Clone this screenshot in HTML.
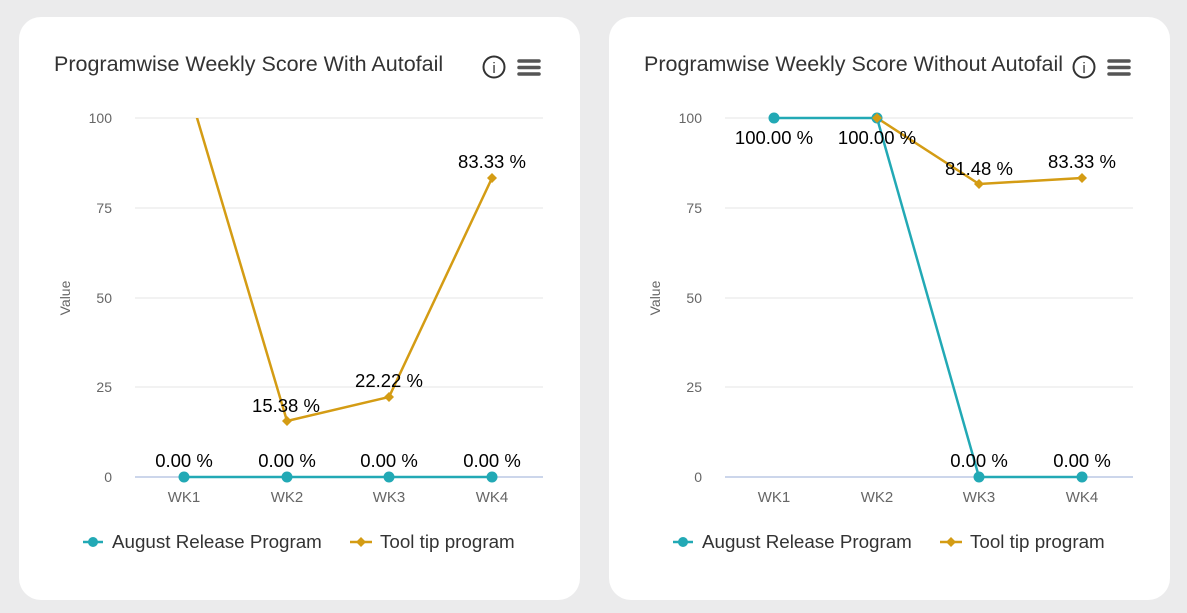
<!DOCTYPE html>
<html><head><style>body{margin:0;background:#ebebeb}svg{display:block}text{font-family:"Liberation Sans",Arial,sans-serif}</style></head><body>
<svg width="1187" height="613" viewBox="0 0 1187 613" xmlns="http://www.w3.org/2000/svg">
<rect width="1187" height="613" fill="#ebebec"/>
<defs><clipPath id="c1"><rect x="130" y="118" width="420" height="367"/></clipPath></defs>
<rect x="19" y="17" width="561" height="583" rx="22" fill="#fff"/>
<rect x="609" y="17" width="561" height="583" rx="22" fill="#fff"/>
<g>
<text x="54" y="71" font-size="21.5" fill="#333">Programwise Weekly Score With Autofail</text>
<circle cx="494" cy="67" r="10.5" fill="none" stroke="#333" stroke-width="2"/><text x="494" y="73" font-size="15" text-anchor="middle" fill="#333">i</text>
<g stroke="#555" stroke-width="3.5" stroke-linecap="round"><line x1="519" y1="61" x2="539" y2="61"/><line x1="519" y1="67.5" x2="539" y2="67.5"/><line x1="519" y1="74" x2="539" y2="74"/></g>
<g stroke="#e6e6e6"><line x1="135" y1="118" x2="543" y2="118"/><line x1="135" y1="208" x2="543" y2="208"/><line x1="135" y1="298" x2="543" y2="298"/><line x1="135" y1="387" x2="543" y2="387"/></g>
<line x1="135" y1="477" x2="543" y2="477" stroke="#ccd6eb" stroke-width="2"/>
<g font-size="14" fill="#666" text-anchor="end"><text x="112" y="123">100</text><text x="112" y="213">75</text><text x="112" y="303">50</text><text x="112" y="392">25</text><text x="112" y="482">0</text></g>
<text transform="translate(70,298) rotate(-90)" font-size="14" fill="#666" text-anchor="middle">Value</text>
<g font-size="15" fill="#666" text-anchor="middle"><text x="184" y="502">WK1</text><text x="287" y="502">WK2</text><text x="389" y="502">WK3</text><text x="492" y="502">WK4</text></g>
<line x1="83" y1="542" x2="103" y2="542" stroke="#22a9b5" stroke-width="2.5"/><circle cx="93" cy="542" r="5" fill="#22a9b5"/>
<text x="112" y="548" font-size="18.8" fill="#333">August Release Program</text>
<line x1="350" y1="542" x2="372" y2="542" stroke="#d49c14" stroke-width="2.5"/><path d="M361 537 L366 542 L361 547 L356 542Z" fill="#d49c14"/>
<text x="380" y="548" font-size="18.8" fill="#333">Tool tip program</text>
</g>
<g clip-path="url(#c1)">
<polyline points="184,74 287,421 389,397 492,178" fill="none" stroke="#d49c14" stroke-width="2.5"/>
</g>
<g fill="#d49c14"><path d="M287 416 L292 421 L287 426 L282 421Z"/><path d="M389 392 L394 397 L389 402 L384 397Z"/><path d="M492 173 L497 178 L492 183 L487 178Z"/></g>
<line x1="184" y1="477" x2="492" y2="477" stroke="#22a9b5" stroke-width="2.5"/>
<g fill="#22a9b5"><circle cx="184" cy="477" r="5.5"/><circle cx="287" cy="477" r="5.5"/><circle cx="389" cy="477" r="5.5"/><circle cx="492" cy="477" r="5.5"/></g>
<g font-size="18.5" fill="#000" text-anchor="middle"><text x="184" y="467">0.00 %</text><text x="287" y="467">0.00 %</text><text x="389" y="467">0.00 %</text><text x="492" y="467">0.00 %</text><text x="286" y="412">15.38 %</text><text x="389" y="387">22.22 %</text><text x="492" y="168">83.33 %</text></g>
<g transform="translate(590,0)">
<text x="54" y="71" font-size="21.5" fill="#333">Programwise Weekly Score Without Autofail</text>
<circle cx="494" cy="67" r="10.5" fill="none" stroke="#333" stroke-width="2"/><text x="494" y="73" font-size="15" text-anchor="middle" fill="#333">i</text>
<g stroke="#555" stroke-width="3.5" stroke-linecap="round"><line x1="519" y1="61" x2="539" y2="61"/><line x1="519" y1="67.5" x2="539" y2="67.5"/><line x1="519" y1="74" x2="539" y2="74"/></g>
<g stroke="#e6e6e6"><line x1="135" y1="118" x2="543" y2="118"/><line x1="135" y1="208" x2="543" y2="208"/><line x1="135" y1="298" x2="543" y2="298"/><line x1="135" y1="387" x2="543" y2="387"/></g>
<line x1="135" y1="477" x2="543" y2="477" stroke="#ccd6eb" stroke-width="2"/>
<g font-size="14" fill="#666" text-anchor="end"><text x="112" y="123">100</text><text x="112" y="213">75</text><text x="112" y="303">50</text><text x="112" y="392">25</text><text x="112" y="482">0</text></g>
<text transform="translate(70,298) rotate(-90)" font-size="14" fill="#666" text-anchor="middle">Value</text>
<g font-size="15" fill="#666" text-anchor="middle"><text x="184" y="502">WK1</text><text x="287" y="502">WK2</text><text x="389" y="502">WK3</text><text x="492" y="502">WK4</text></g>
<line x1="83" y1="542" x2="103" y2="542" stroke="#22a9b5" stroke-width="2.5"/><circle cx="93" cy="542" r="5" fill="#22a9b5"/>
<text x="112" y="548" font-size="18.8" fill="#333">August Release Program</text>
<line x1="350" y1="542" x2="372" y2="542" stroke="#d49c14" stroke-width="2.5"/><path d="M361 537 L366 542 L361 547 L356 542Z" fill="#d49c14"/>
<text x="380" y="548" font-size="18.8" fill="#333">Tool tip program</text>
<polyline points="184,118 287,118 389,477 492,477" fill="none" stroke="#22a9b5" stroke-width="2.5"/>
<polyline points="287,118 389,184 492,178" fill="none" stroke="#d49c14" stroke-width="2.5"/>
<g fill="#22a9b5"><circle cx="184" cy="118" r="5.5"/><circle cx="287" cy="118" r="5.5"/><circle cx="389" cy="477" r="5.5"/><circle cx="492" cy="477" r="5.5"/></g>
<g fill="#d49c14"><path d="M287 113 L292 118 L287 123 L282 118Z"/><path d="M389 179 L394 184 L389 189 L384 184Z"/><path d="M492 173 L497 178 L492 183 L487 178Z"/></g>
<g font-size="18.5" fill="#000" text-anchor="middle"><text x="184" y="144">100.00 %</text><text x="287" y="144">100.00 %</text><text x="389" y="175">81.48 %</text><text x="492" y="168">83.33 %</text><text x="389" y="467">0.00 %</text><text x="492" y="467">0.00 %</text></g>
</g>
</svg>
</body></html>
